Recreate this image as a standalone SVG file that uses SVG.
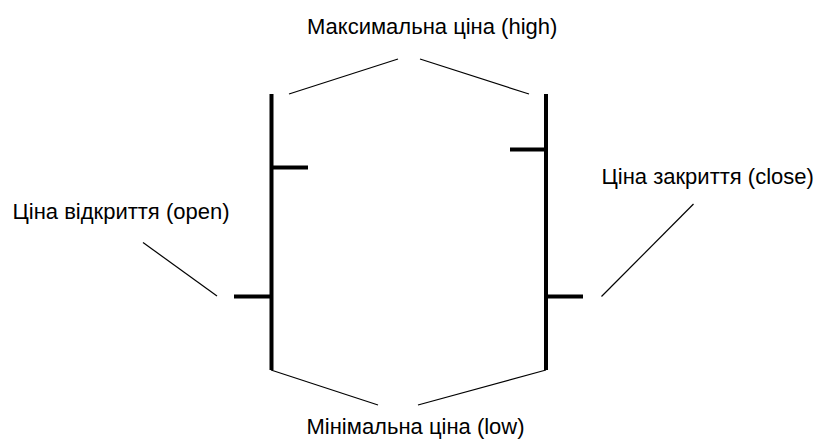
<svg xmlns="http://www.w3.org/2000/svg" width="819" height="439" viewBox="0 0 819 439">
<style>
.lbl{font-family:"Liberation Sans",Arial,sans-serif;font-size:22px;fill:#000}
.bar{stroke:#000;stroke-width:4;fill:none}
.lead{stroke:#000;stroke-width:1.2;fill:none}
</style>
<rect width="819" height="439" fill="#fff"/>
<g id="candle-left">
<line class="bar" x1="271.5" y1="94" x2="271.5" y2="370"/>
<line class="bar" x1="271.5" y1="167.5" x2="308" y2="167.5"/>
<line class="bar" x1="234" y1="296.5" x2="271.5" y2="296.5"/>
</g>
<g id="candle-right">
<line class="bar" x1="546" y1="94" x2="546" y2="370"/>
<line class="bar" x1="510" y1="149.5" x2="546" y2="149.5"/>
<line class="bar" x1="546" y1="296.5" x2="583" y2="296.5"/>
</g>
<g id="label-high"><text class="lbl" x="307" y="34">Максимальна ціна (high)</text></g>
<g id="label-open"><text class="lbl" x="12.5" y="218.5">Ціна відкриття (open)</text></g>
<g id="label-close"><text class="lbl" x="601.5" y="184">Ціна закриття (close)</text></g>
<g id="label-low"><text class="lbl" x="306.5" y="434">Мінімальна ціна (low)</text></g>
<g id="connectors">
<line class="lead" x1="289" y1="94" x2="398" y2="59"/>
<line class="lead" x1="420" y1="59" x2="529" y2="94"/>
<line class="lead" x1="143" y1="242.5" x2="217" y2="296"/>
<line class="lead" x1="693.5" y1="204" x2="601.5" y2="296.5"/>
<line class="lead" x1="271" y1="370" x2="378" y2="405"/>
<line class="lead" x1="418" y1="405" x2="546" y2="370"/>
</g>
</svg>
